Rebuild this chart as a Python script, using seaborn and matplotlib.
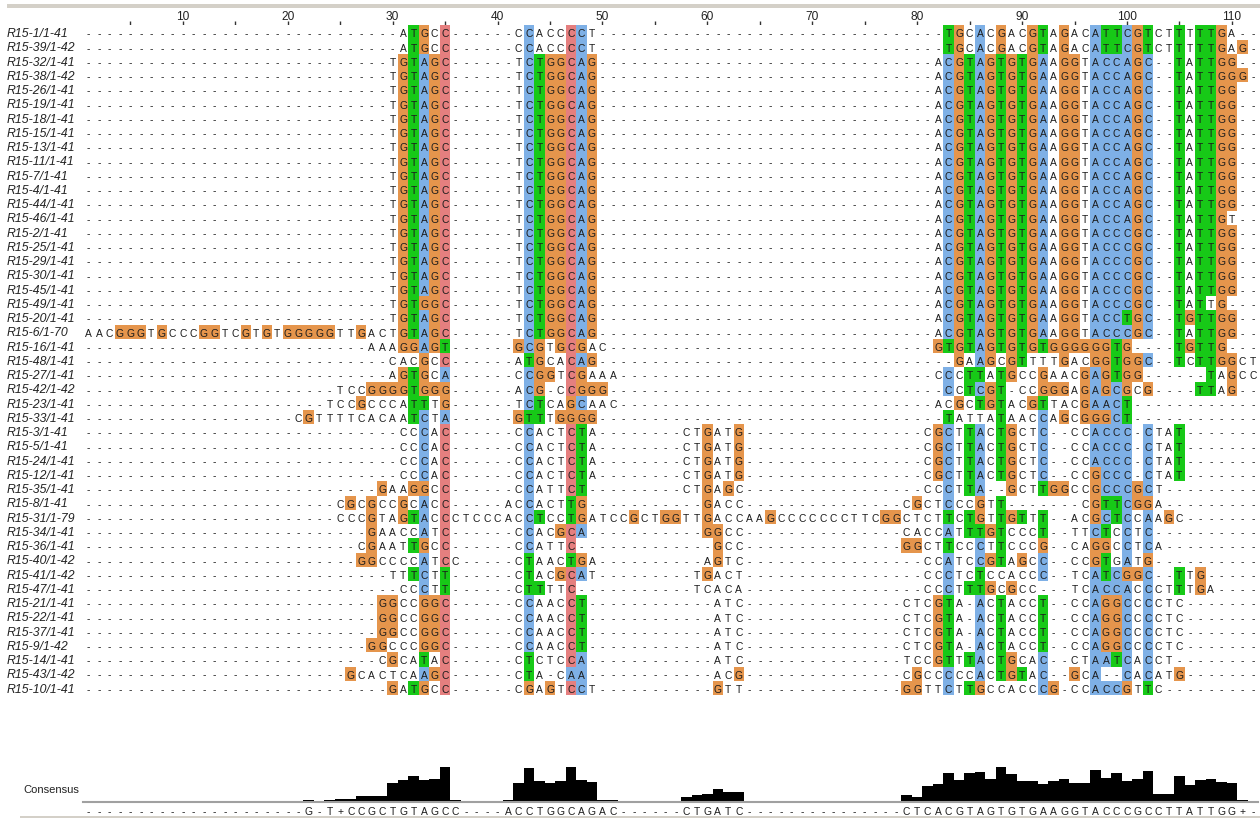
import numpy as np
import pandas as pd
import matplotlib
matplotlib.use("Agg")
import matplotlib.pyplot as plt
from matplotlib.colors import ListedColormap
from matplotlib.patches import Rectangle
import seaborn as sns

# ---------- data: alignment (uppercase = coloured residue, lowercase = plain) ----------
n_columns = 112
names = ["R15-1/1-41", "R15-39/1-42", "R15-32/1-41", "R15-38/1-42", "R15-26/1-41", "R15-19/1-41",
         "R15-18/1-41", "R15-15/1-41", "R15-13/1-41", "R15-11/1-41", "R15-7/1-41", "R15-4/1-41",
         "R15-44/1-41", "R15-46/1-41", "R15-2/1-41", "R15-25/1-41", "R15-29/1-41", "R15-30/1-41",
         "R15-45/1-41", "R15-49/1-41", "R15-20/1-41", "R15-6/1-70", "R15-16/1-41", "R15-48/1-41",
         "R15-27/1-41", "R15-42/1-42", "R15-23/1-41", "R15-33/1-41", "R15-3/1-41", "R15-5/1-41",
         "R15-24/1-41", "R15-12/1-41", "R15-35/1-41", "R15-8/1-41", "R15-31/1-79", "R15-34/1-41",
         "R15-36/1-41", "R15-40/1-42", "R15-41/1-42", "R15-47/1-41", "R15-21/1-41", "R15-22/1-41",
         "R15-37/1-41", "R15-9/1-42", "R15-14/1-41", "R15-43/1-42", "R15-10/1-41"]

std_left = (30, "tGTAGC")
std_mid = (42, "tCTGGCAG")
r_a = (82, "aCGTAGTGTGAaGGtACCAGC--TaTTGG")
r_c = (82, "aCGTAGTGTGAaGGtACCCGC--TaTTGG")
r_one = (83, "TGcAcGacGTaGacATTCGTctTtTTGa")
m_3 = (42, "cCactCTa")
m_3b = (58, "ctGatG")
r_3 = (81, "cGCtTAcTGctC--ccACCC-CtaT")
l_21 = (29, "GGccGGC")
m_21 = (42, "cCaacCT")
m_atc = (61, "atc")
r_21 = (79, "ctcGTa-AcTaccT--ccAGGCcCctc")

alignment = [
    [(31, "aTGcC"), (42, "cCaccCCt"), r_one],
    [(31, "aTGcC"), (42, "cCaccCCt"), (83, "TGcAcGacGTaGacATTCGTctTtTTGaG")],
    [std_left, std_mid, r_a],
    [std_left, std_mid, (82, "aCGTAGTGTGAaGGtACCAGC--TaTTGGG")],
    [std_left, std_mid, r_a],
    [std_left, std_mid, r_a],
    [std_left, std_mid, r_a],
    [std_left, std_mid, r_a],
    [std_left, std_mid, r_a],
    [std_left, std_mid, r_a],
    [std_left, std_mid, r_a],
    [std_left, std_mid, r_a],
    [std_left, std_mid, r_a],
    [std_left, std_mid, (82, "aCGTAGTGTGAaGGtACCAGC--TaTTGt")],
    [std_left, std_mid, r_c],
    [std_left, std_mid, r_c],
    [std_left, std_mid, r_c],
    [std_left, std_mid, r_c],
    [std_left, std_mid, r_c],
    [(30, "tGTGGC"), std_mid, (82, "aCGTAGTGTGAaGGtACCCGC--TaTtG")],
    [std_left, std_mid, (82, "aCGTAGTGTGAaGGtACCTGC--TGTTGG")],
    [(1, "aacGGGtGcccGGtcGtGtGGGGGttGactGTAGC"), std_mid, r_c],
    [(28, "aaaGGAGT"), (42, "GCGtGCGac"), (82, "GTGTAGTGTGTGGGGGGTG----TGTTG")],
    [(30, "cacGcC"), (42, "aTGcaCAG"), (84, "GaAGcGTtttGacGGTGGC--TcTTGGct")],
    [(30, "aGTGcA"), (42, "cCGGtCGaaa"), (82, "cCcTTaTGccGaacGAGTGG------TaGcc")],
    [(25, "tccGGGGTGGG"), (42, "aCG-cCGGG"), (83, "CcTCGT-ccGGGaGAGCGcG----TTaG")],
    [(24, "tccGcccaTTtG"), (42, "tCTcaGCaac"), (82, "acGcTGTacGTtacGAACT")],
    [(21, "cGttttcacaaTCtA"), (42, "GTTtGGGG"), (83, "TattaTaacCaGcGGGCT")],
    [(31, "ccCaC"), m_3, m_3b, r_3],
    [(31, "ccCaC"), m_3, m_3b, r_3],
    [(31, "ccCaC"), m_3, m_3b, r_3],
    [(31, "ccCaC"), m_3, m_3b, (81, "cGCtTAcTGctC--ccGCCC-CtaT")],
    [(29, "GaaGGcC"), (42, "cCattCT"), (58, "ctGaGc"), (81, "ccCtTA--GctTGGccGCCCGCt")],
    [(25, "cGcGccGcAcC"), (41, "acCactTG"), (60, "Gacc"), (79, "cGctCccGtT"), (96, "cGTTCGGa")],
    [(25, "cccGtaGTAcCctcccacCTccTGatcc"), (53, "GctGGttGaccaaGcccccccttcGGctct"),
     (83, "TcTGtTGTtT--acGCTCcAaGc")],
    [(28, "GaaccAtC"), (42, "cCacGCA"), (60, "GGcc"), (79, "caccAtTTGTcccT--ttCTcCtC")],
    [(27, "cGaatTGcC"), (42, "cCattC"), (61, "Gcc"), (79, "GGctTccCtTcccG--caGGcCtCa")],
    [(27, "GGccccAtCc"), (42, "cTaacTGa"), (60, "aGtc"), (81, "ccAtcCGTaGcC--ccGTgAtG")],
    [(30, "ttTCtT"), (42, "cTacGCAt"), (59, "tGact"), (81, "ccCtcTccaccC--tcATCGGC--TtG")],
    [(31, "ccCtT"), (42, "cTTttC"), (59, "tcaca"), (81, "ccCtTTGcGcc---tcACCAcCctTtGa")],
    [l_21, m_21, m_atc, r_21],
    [l_21, m_21, m_atc, r_21],
    [l_21, m_21, m_atc, r_21],
    [(28, "GGcccGGC"), m_21, m_atc, r_21],
    [(29, "cGcaTaC"), (42, "cTctcCA"), m_atc, (79, "tccGTtTAcTGcaC--ctAATCaCct")],
    [(26, "GcactcaAGC"), (42, "cTa-cAA"), (61, "acG"), (79, "cGccCccAcTGTaC--GcA--CaCatG")],
    [(30, "GaTGcC"), (42, "cGaGtCCt"), (61, "Gtt"), (79, "GGttCtTGccaccCG-ccACCGtTc")],
]
red_cytosine_columns = [35, 47]

consensus = ("---------------------G-T+CCGCTGTAGCC----ACCTGGCAGAC------CTGATC---------------"
             "CTCACGTAGTGTGAAGGTACCCGCCTTATTGG+-")
cons_columns = [22, 24, 25, 26, 27, 28, 29, 30, 31, 32, 33, 34, 35, 36, 41, 42, 43, 44, 45, 46, 47, 48, 49, 50, 51,
                58, 59, 60, 61, 62, 63,
                79, 80, 81, 82, 83, 84, 85, 86, 87, 88, 89, 90, 91, 92, 93, 94, 95, 96, 97, 98, 99, 100,
                101, 102, 103, 104, 105, 106, 107, 108, 109, 110, 111]
cons_heights = [4, 3, 7, 7, 15, 15, 15, 55, 64, 77, 64, 68, 103, 4, 4, 55, 100, 61, 55, 61, 103, 64, 58, 3, 3,
                12, 19, 22, 37, 28, 28,
                19, 12, 46, 52, 85, 64, 85, 88, 67, 103, 82, 61, 61, 52, 61, 67, 55, 55, 94, 70, 85, 61,
                67, 91, 22, 22, 76, 49, 64, 67, 58, 55, 3]

tick_columns = list(range(5, 111, 5))
tick_labels = [str(c) if c % 10 == 0 else "" for c in tick_columns]

palette_codes = {"G": 1, "T": 2, "A": 3, "C": 3}
cell_colors = ["#FFFFFF", "#E5954C", "#17C917", "#7EB0E6", "#E57F7F"]

# ---------- expand to grids ----------
letters = np.full((len(names), n_columns), "-", dtype="<U1")
codes = np.zeros((len(names), n_columns), dtype=int)
for r, segments in enumerate(alignment):
    for start, text in segments:
        for k, ch in enumerate(text):
            col = start + k
            letters[r, col - 1] = ch.upper()
            if ch.isupper():
                codes[r, col - 1] = palette_codes[ch]
                if ch == "C" and col in red_cytosine_columns:
                    codes[r, col - 1] = 4

# ---------- figure ----------
sns.set_theme(style="white")
plt.rcParams["font.family"] = ["Liberation Sans", "DejaVu Sans"]
W, H = 1260, 818
fig = plt.figure(figsize=(W / 100, H / 100), dpi=100, facecolor="white")


def px_axes(x0, y0, x1, y1):
    return fig.add_axes([x0 / W, 1 - y1 / H, (x1 - x0) / W, (y1 - y0) / H])


left, right = 83.2, 83.2 + 10.49 * n_columns
ax = px_axes(left, 25.3, right, 695)
sns.heatmap(codes, ax=ax, cmap=ListedColormap(cell_colors), vmin=0, vmax=4, cbar=False,
            annot=letters, fmt="", annot_kws={"size": 7.4, "color": "#1c1c1c"},
            xticklabels=False, yticklabels=names, linewidths=0)
for t in ax.texts:
    t.set_y(t.get_position()[1] + 0.14)

ax.set_yticks(np.arange(len(names)) + 0.62)
ax.set_yticklabels(names, rotation=0, style="italic", fontsize=8.8, color="#222222", ha="left")
ax.tick_params(axis="y", length=0, pad=(left - 7) * 0.72)

ax.xaxis.tick_top()
ax.set_xticks(np.array(tick_columns) - 0.5)
ax.set_xticklabels(tick_labels, fontsize=8.6, color="#222222", rotation=0)
ax.tick_params(axis="x", length=3, width=1, color="#333333", pad=-1.2, top=True, bottom=False)
for s in ax.spines.values():
    s.set_visible(False)

# consensus histogram
cons = pd.DataFrame({"column": np.arange(1, n_columns + 1)})
cons["height"] = cons["column"].map(dict(zip(cons_columns, cons_heights))).fillna(0)
ax2 = px_axes(left, 767, right, 801.5)
sns.barplot(data=cons, x="column", y="height", color="black", saturation=1, width=1,
            linewidth=0, ax=ax2)
ax2.spines["bottom"].set_position(("outward", 0.7))
ax2.set_xlim(-0.5, n_columns - 0.5)
ax2.set_ylim(0, 103)
ax2.set_xlabel("")
ax2.set_ylabel("")
ax2.set_yticks([])
ax2.set_xticks(np.arange(n_columns))
ax2.set_xticklabels(list(consensus.ljust(n_columns, "-")), fontsize=7.4, color="#1c1c1c")
ax2.tick_params(axis="x", length=0, pad=3.2)
for name, s in ax2.spines.items():
    s.set_visible(name == "bottom")
ax2.spines["bottom"].set_color("#a0a0a0")
ax2.spines["bottom"].set_linewidth(1.5)

fig.text(23 / W, 1 - 790 / H, "Consensus", fontsize=8, color="#222222", va="center", ha="left")

# window chrome
fig.add_artist(Rectangle((7 / W, 1 - 8 / H), (W - 7) / W, 4 / H, transform=fig.transFigure,
                         facecolor="#D4D0C8", edgecolor="none"))
fig.add_artist(Rectangle((20 / W, 0), (W - 20) / W, 2 / H, transform=fig.transFigure,
                         facecolor="#D4D0C8", edgecolor="none"))

fig.savefig("out.png", dpi=100, facecolor="white")
